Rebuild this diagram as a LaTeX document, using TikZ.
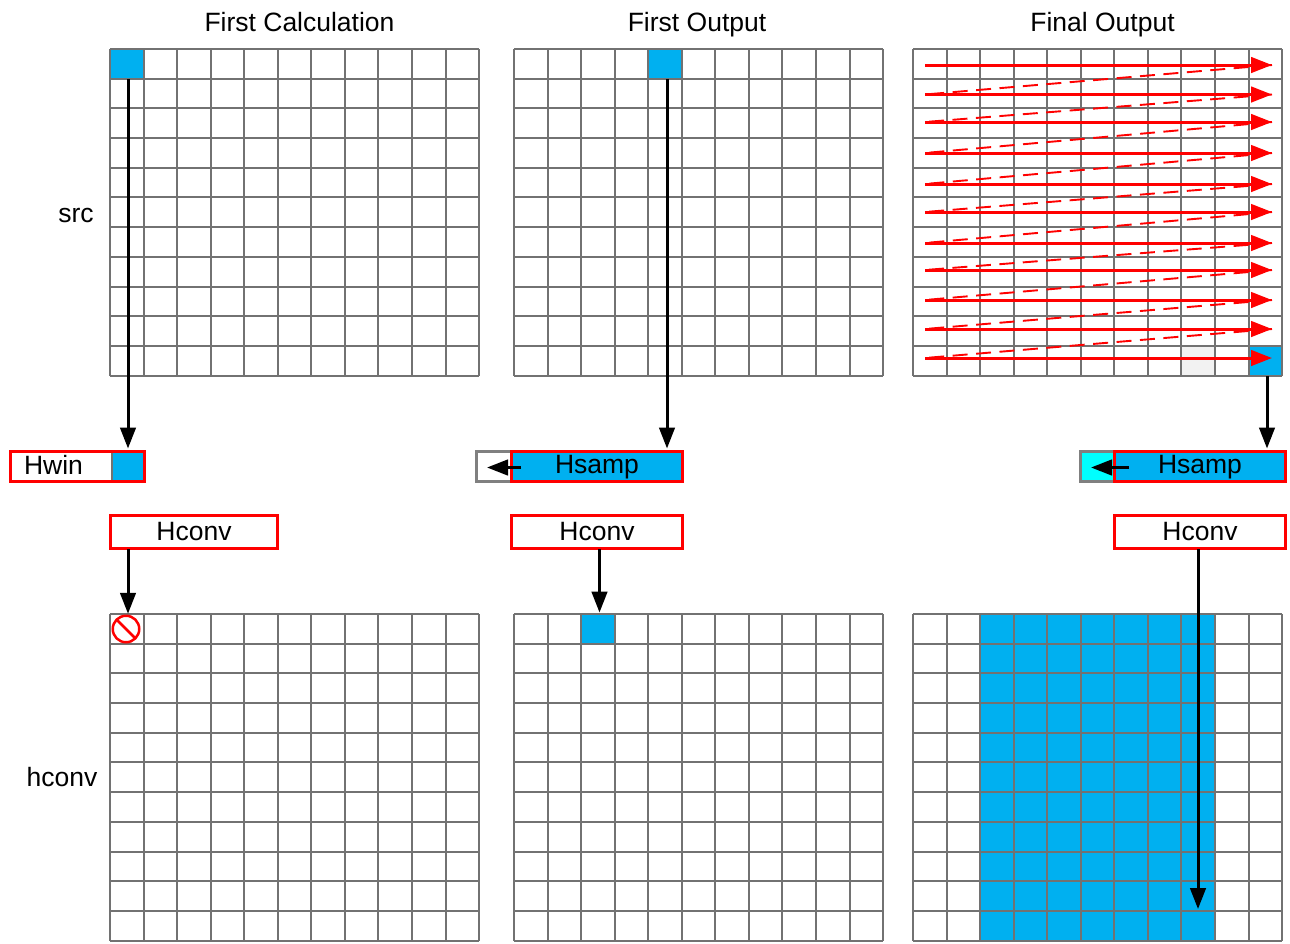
\documentclass[tikz,border=0pt]{standalone}
\usepackage{fontspec}
\setmainfont{Liberation Sans}
\usetikzlibrary{arrows.meta,calc}
\definecolor{cellblue}{HTML}{00B0F0}
\definecolor{gridgray}{HTML}{727272}
\definecolor{boxgray}{HTML}{808080}
\definecolor{brightcyan}{HTML}{00FFFF}
\tikzset{
  x=1pt,y=-1pt,
  gridline/.style={draw=gridgray,line width=2pt},
  cell/.style={draw=none,inner sep=0pt,outer sep=0pt,minimum width=33.55pt,minimum height=29.7pt},
  redbox/.style={draw=red,line width=3pt,inner sep=0pt,outer sep=0pt,minimum width=#1,minimum height=33pt},
  graybox/.style={draw=boxgray,line width=3pt,inner sep=0pt,outer sep=0pt,minimum width=#1,minimum height=31pt},
  txt/.style={font=\fontsize{26.5}{30}\selectfont,text=black,inner sep=0pt,anchor=base},
  blackarrow/.style={draw=black,line width=3pt,-{Triangle[length=21pt,width=15.5pt]}},
  redarrow/.style={draw=red,line width=3pt,-{Triangle[length=21pt,width=15.5pt]}},
  reddash/.style={draw=red,line width=1.9pt,dash pattern=on 15pt off 8.5pt},
}
\newcommand{\gridat}[2]{%
  \foreach \i in {0,...,11}{
    \pgfmathsetmacro{\gx}{round(#1+\i*33.55)}
    \pgfmathsetmacro{\gy}{round(#2+\i*29.7)}
    \draw[gridline] (\gx,#2) -- (\gx,{#2+327});
    \draw[gridline] (#1,\gy) -- ({#1+369},\gy);
  }}
\begin{document}
\begin{tikzpicture}
\useasboundingbox (0,0) rectangle (1290,943);
% labels
\node[txt] (t1) at (299.5,31) {First Calculation};
\node[txt] (t2) at (697,31) {First Output};
\node[txt] (t3) at (1102.5,31) {Final Output};
\node[txt] (lsrc) at (76,222) {src};
\node[txt] (lhconv) at (62,786) {hconv};
% cell fills
\node[cell,fill=cellblue] (c1) at (126.8,63.9) {};
\node[cell,fill=cellblue] (c2) at (664.8,63.9) {};
\node[cell,fill=cellblue] (c3) at (1265.2,360.9) {};
\node[cell,fill=black!5] (c4) at (1198.1,360.9) {};
\node[cell,fill=cellblue] (c5) at (597.7,629.4) {};
\node[cell,fill=cellblue,minimum width=234.85pt,minimum height=326.7pt] (c6) at (1097.4,777.9) {};
% grids
\gridat{110}{49}
\gridat{514}{49}
\gridat{913}{49}
\gridat{110}{614}
\gridat{514}{614}
\gridat{913}{614}
% red sweep
\foreach \n/\yy in {1/65,2/94.5,3/122,4/153,5/184,6/212,7/243,8/270,9/300,10/329,11/358}{
  \coordinate (rs\n) at (925,\yy);
  \coordinate (re\n) at (1272,\yy);
}
\foreach \a/\b in {1/2,2/3,3/4,4/5,5/6,6/7,7/8,8/9,9/10,10/11}{
  \draw[reddash] (re\a) -- (rs\b);
}
\foreach \n in {1,...,11}{
  \draw[redarrow] (rs\n) -- (re\n);
}
% boxes
\node[redbox=134pt,minimum height=30pt,fill=white] (hwin) at (77.5,466.5) {};
\node[cell,fill=cellblue,draw=gridgray,line width=2pt,minimum width=32pt] (hwincell) at (127.5,466.5) {};
\draw[draw=red,line width=3pt] (hwin.south west) rectangle (hwin.north east);
\node[txt] (hwint) at (53.5,474) {Hwin};
\node[redbox=167pt,fill=white] (hc1) at (194,532) {};
\node[txt] at (194,540) {Hconv};
\node[graybox=40pt,minimum height=30pt,fill=white] (hg2) at (496,466.5) {};
\node[redbox=171pt,minimum height=30pt,fill=cellblue] (hs2) at (597,466.5) {};
\node[txt] at (597,473.5) {Hsamp};
\node[redbox=171pt,fill=white] (hc2) at (597,532) {};
\node[txt] at (597,540) {Hconv};
\node[graybox=38pt,minimum height=30pt,fill=brightcyan] (hg3) at (1099,466.5) {};
\node[redbox=171pt,minimum height=30pt,fill=cellblue] (hs3) at (1200,466.5) {};
\node[txt] at (1200,473.5) {Hsamp};
\node[redbox=171pt,fill=white] (hc3) at (1200,532) {};
\node[txt] at (1200,540) {Hconv};
% forbidden sign
\node[circle,draw=red,line width=2.5pt,minimum size=26.5pt,inner sep=0pt,outer sep=0pt] (nosign) at (126,629) {};
\draw[red,line width=2.5pt] (nosign.north west) -- (nosign.south east);
% black connectors
\draw[blackarrow,shorten >=3pt] ([xshift=1.2pt]c1.south) -- ([xshift=1.2pt]c1.south |- hwin.north);
\draw[blackarrow,shorten >=3pt] ([xshift=2.2pt]c2.south) -- ([xshift=2.2pt]c2.south |- hs2.north);
\draw[blackarrow,shorten >=3pt] ([xshift=1.8pt]c3.south) -- ([xshift=1.8pt]c3.south |- hs3.north);
\draw[blackarrow,shorten >=2pt] ([xshift=1.2pt]c1.south |- hc1.south) -- ([xshift=1.2pt]c1.south |- nosign.north);
\draw[blackarrow,shorten >=2pt] ([xshift=1.8pt]c5.north |- hc2.south) -- ([xshift=1.8pt]c5.north);
\coordinate (hc3end) at (1198,909);
\draw[blackarrow] (hc3end |- hc3.south) -- (hc3end);
\coordinate (a2s) at (521,467.5);
\coordinate (a2e) at (487,467.5);
\draw[blackarrow] (a2s) -- (a2e);
\coordinate (a3s) at (1129,467.5);
\coordinate (a3e) at (1091,467.5);
\draw[blackarrow] (a3s) -- (a3e);
\end{tikzpicture}
\end{document}
